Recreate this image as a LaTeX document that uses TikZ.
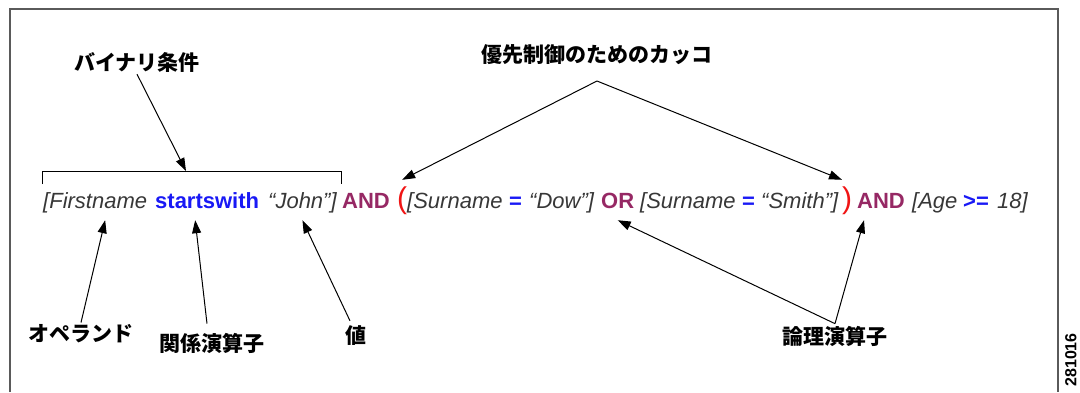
\documentclass[tikz,border=0pt]{standalone}
\usepackage{fontspec}
\setmainfont{Liberation Sans}
\newfontfamily\jpfont{Noto Sans CJK JP}
\usepackage{xcolor}
\usetikzlibrary{arrows.meta, positioning, calc}
\definecolor{txtgray}{RGB}{55,55,55}
\definecolor{relblue}{RGB}{25,25,245}
\definecolor{logicred}{RGB}{150,40,100}
\definecolor{parred}{RGB}{240,20,20}
\definecolor{framegray}{RGB}{90,90,90}
\tikzstyle{arrow} = [line width=1pt,-{Triangle[length=13pt,width=9pt]}]
\tikzstyle{expr} = [anchor=base west, inner xsep=0pt, inner ysep=6pt, text height=22pt, text depth=6pt, text=txtgray, font=\fontsize{22}{26}\selectfont\itshape]
\tikzstyle{relop} = [expr, text=relblue, font=\fontsize{22}{26}\selectfont\bfseries]
\tikzstyle{logop} = [expr, text=logicred, font=\fontsize{22}{26}\selectfont\bfseries]
\tikzstyle{paren} = [expr, text=parred, font=\fontsize{30}{34}\selectfont]
\tikzstyle{jp} = [inner sep=2pt, font=\jpfont\bfseries\fontsize{21}{24}\selectfont]

\begin{document}
\begin{tikzpicture}[x=1pt, y=-1pt]
\useasboundingbox (0,0) rectangle (1080,392);

% Frame (open at the bottom)
\draw[framegray, line width=1.5pt] (10,392) -- (10,9) -- (1058,9) -- (1058,392);

% Expression
\node[expr] (fname) at (43,208) {[Firstname};
\node[relop] (rel1) at (155,208) {startswith};
\node[expr] (val1) at (268,208) {“John”]};
\node[logop] (and1) at (342,208) {AND};
\node[paren] (lpar) at (397,208) {(};
\node[expr] (sname1) at (407,208) {[Surname};
\node[relop] (eq1) at (509,208) {=};
\node[expr] (val2) at (529,208) {“Dow”]};
\node[logop] (or1) at (601,208) {OR};
\node[expr] (sname2) at (640,208) {[Surname};
\node[relop] (eq2) at (742,208) {=};
\node[expr] (val3) at (761,208) {“Smith”]};
\node[paren] (rpar) at (842,208) {)};
\node[logop] (and2) at (857,208) {AND};
\node[expr] (age) at (912,208) {[Age};
\node[relop] (rel2) at (963,208) {>=};
\node[expr] (val4) at (997,208) {18]};

% Bracket over the binary condition
\draw[line width=1pt] (42,184) -- (42,171) -- (341,171) -- (341,184);
\coordinate (brkmid) at (186,171);

% Labels
\node[jp] (binlbl) at (137,62) {バイナリ条件};
\node[jp] (prilbl) at (597,55) {優先制御のためのカッコ};
\node[jp] (opelbl) at (81,334) {オペランド};
\node[jp] (rellbl) at (212,343) {関係演算子};
\node[jp] (vallbl) at (356,336) {値};
\node[jp] (lgclbl) at (835,336) {論理演算子};

% Arrows
\draw[arrow] (binlbl.south) -- (brkmid);
\coordinate (priapex) at (597,81);
\draw[arrow] (priapex) -- (lpar.north);
\draw[arrow] (priapex) -- (rpar.north west);
\draw[arrow] (opelbl.north) -- ($(fname.south)+(10,0)$);
\draw[arrow] ($(rellbl.north)+(-5,-7)$) -- ($(rel1.south)+(-12,0)$);
\draw[arrow] ($(vallbl.north)+(-6,-3)$) -- (val1.south);
\draw[arrow] (lgclbl.north) -- (or1.south);
\draw[arrow] (lgclbl.north) -- ($(and2.south)+(-17,0)$);

% Figure number
\node[rotate=90, anchor=north east, inner sep=0pt, font=\bfseries\fontsize{16}{18}\selectfont] (figid) at (1065,333) {281016};
\end{tikzpicture}
\end{document}
